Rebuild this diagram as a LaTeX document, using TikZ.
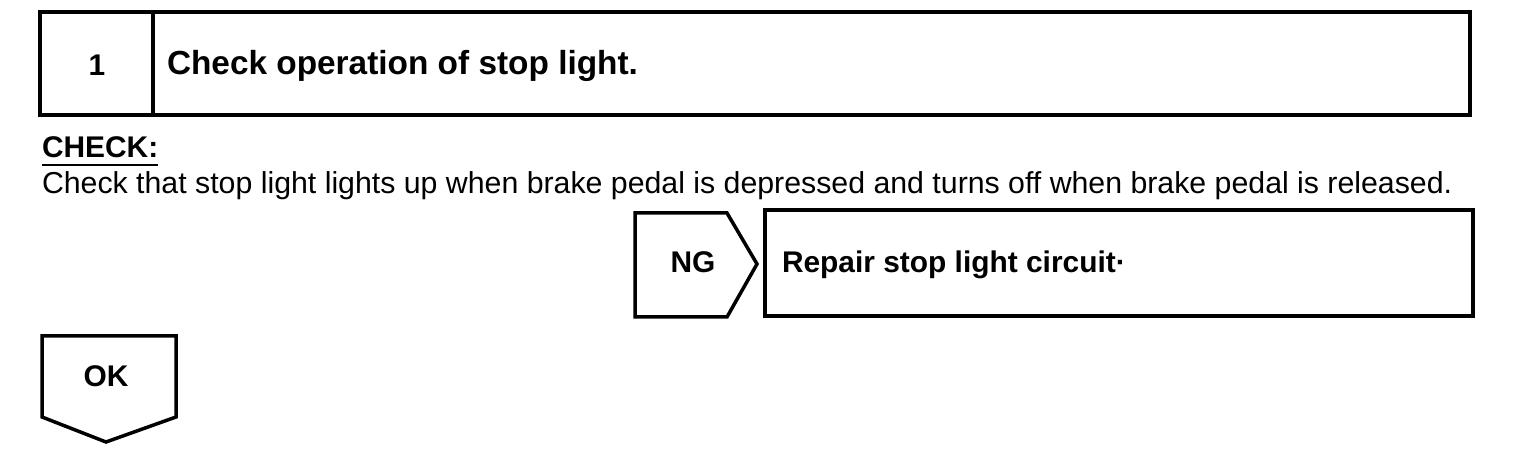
\documentclass[tikz,border=0pt]{standalone}
\usepackage{fontspec}
\setmainfont{Liberation Sans}
\begin{document}
\begin{tikzpicture}[x=1bp,y=-1bp,
  box/.style={line width=3.5bp, line join=miter},
  txt/.style={inner sep=0pt, outer sep=0pt},
  bold30/.style={txt, font=\bfseries\fontsize{30}{36}\selectfont},
  reg30/.style={txt, font=\fontsize{30.4}{36}\selectfont},
  bold33/.style={txt, font=\bfseries\fontsize{33.5}{40}\selectfont}]
\useasboundingbox (0,0) rectangle (1536,456);
% step header
\draw[box] (40,12) rectangle (1470,115);
\draw[box] (153,12) -- (153,115);
\node[bold30, anchor=base] (num) at (97,76) {1};
\node[bold33, anchor=base west] (title) at (167,75) {Check operation of stop light.};
% check
\node[bold30, anchor=base west] (check) at (42,158) {CHECK:};
\draw[line width=2bp] ([yshift=-7bp]check.base west) -- ([yshift=-7bp]check.base east);
\node[reg30, anchor=base west] (body) at (42,194) {Check that stop light lights up when brake pedal is depressed and turns off when brake pedal is released.};
% NG branch
\draw[box] (635,213) -- (727,213) -- (757,264) -- (727,317) -- (635,317) -- cycle;
\node[bold30, anchor=base] (ng) at (693,273) {NG};
\draw[box] (765,210) rectangle (1473,316);
\node[bold30, anchor=base west] (repair) at (782,273) {Repair stop light circuit·};
% OK branch
\draw[box] (42,336) -- (176,336) -- (176,417) -- (106,442) -- (42,417) -- cycle;
\node[bold30, anchor=base] (ok) at (106,386) {OK};
\end{tikzpicture}
\end{document}
